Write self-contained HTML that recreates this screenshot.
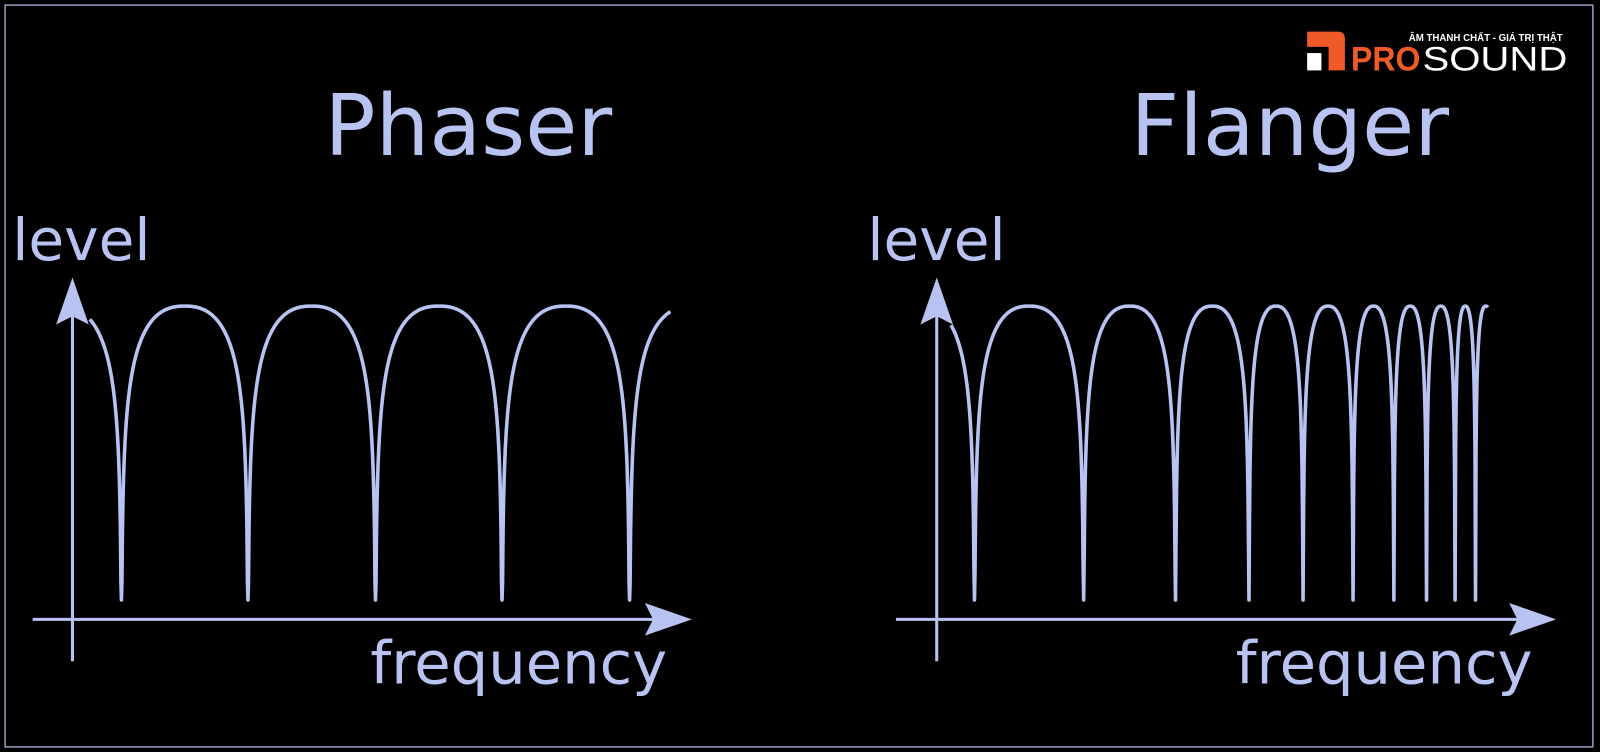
<!DOCTYPE html>
<html><head><meta charset="utf-8"><style>
html,body{margin:0;padding:0;background:#000;width:1600px;height:752px;overflow:hidden}
svg{display:block}
text{font-family:"DejaVu Sans","Liberation Sans",sans-serif;fill:#b9c3f2}
</style></head><body>
<svg id="s" width="1600" height="752" viewBox="0 0 1568 737" preserveAspectRatio="none">
<rect x="0" y="0" width="1568" height="737" fill="#000"/>
<rect x="5" y="5" width="1556" height="727" fill="none" stroke="#b9c3f2" stroke-width="1.5" opacity="0.8"/>
<text x="459" y="152" font-size="83" text-anchor="middle">Phaser</text>
<text x="1264" y="152" font-size="83" text-anchor="middle">Flanger</text>
<text x="12" y="255" font-size="57">level</text>
<text x="850" y="255" font-size="57">level</text>
<text x="363" y="670" font-size="58">frequency</text>
<text x="1211" y="670" font-size="58">frequency</text>
<g stroke="#b9c3f2" stroke-width="3" fill="none">
<line x1="71" y1="648" x2="71" y2="295"/>
<line x1="32" y1="607" x2="655" y2="607"/>
<line x1="918" y1="648" x2="918" y2="295"/>
<line x1="878" y1="607" x2="1502" y2="607"/>
<path id="p1" stroke-width="3.5" stroke-linejoin="round"/>
<path id="p2" stroke-width="3.5" stroke-linejoin="round"/>
</g>
<g fill="#b9c3f2">
<polygon points="71,272 55,318 71,310 87,318"/>
<polygon points="678,607 632,591 640,607 632,623"/>
<polygon points="918,272 902,318 918,310 934,318"/>
<polygon points="1525,607 1479,591 1487,607 1479,623"/>
</g>
<g>
<path d="M1281,31 H1311 Q1318,31 1318,38 V69 H1302 V46 H1281 Z" fill="#f05a28"/>
<rect x="1281" y="52" width="14" height="17" fill="#fff"/>
<text x="1456" y="40" font-size="9.5" font-weight="bold" text-anchor="middle" style="fill:#fff;font-family:'Liberation Sans',sans-serif">ÂM THANH CHẤT - GIÁ TRỊ THẬT</text>
<text x="1324" y="69" font-size="34" font-weight="bold" style="fill:#f05a28;font-family:'Liberation Sans',sans-serif" textLength="68" lengthAdjust="spacingAndGlyphs">PRO</text>
<text x="1394" y="69" font-size="34" style="fill:#fff;font-family:'Liberation Sans',sans-serif" textLength="142" lengthAdjust="spacingAndGlyphs">SOUND</text>
</g>
</svg>
<script>
function build(notches,x0,x1){
  var top=300,bot=588,range=40,p=1.2,d="";
  var n=notches.slice();
  var first=n[1]-n[0], last=n[n.length-1]-n[n.length-2];
  n.unshift(n[0]-first); n.push(n[n.length-1]+last);
  for(var x=x0;x<=x1;x+=0.5){
    var i=0; while(i<n.length-2 && x>n[i+1]) i++;
    var t=(x-n[i])/(n[i+1]-n[i]);
    var s=Math.abs(Math.sin(Math.PI*t));
    var db=20*Math.log10(Math.max(s,1e-6));
    var f=Math.min(1,Math.pow(-db/range,p));
    var y=top+f*(bot-top);
    d+=(d?"L":"M")+x.toFixed(1)+","+y.toFixed(1);
  }
  return d;
}
document.getElementById("p1").setAttribute("d",build([119,243,368,492,617],88,657));
document.getElementById("p2").setAttribute("d",build([955,1062,1152,1224,1277,1326,1366,1398,1426,1446],932,1458));
</script>
</body></html>
